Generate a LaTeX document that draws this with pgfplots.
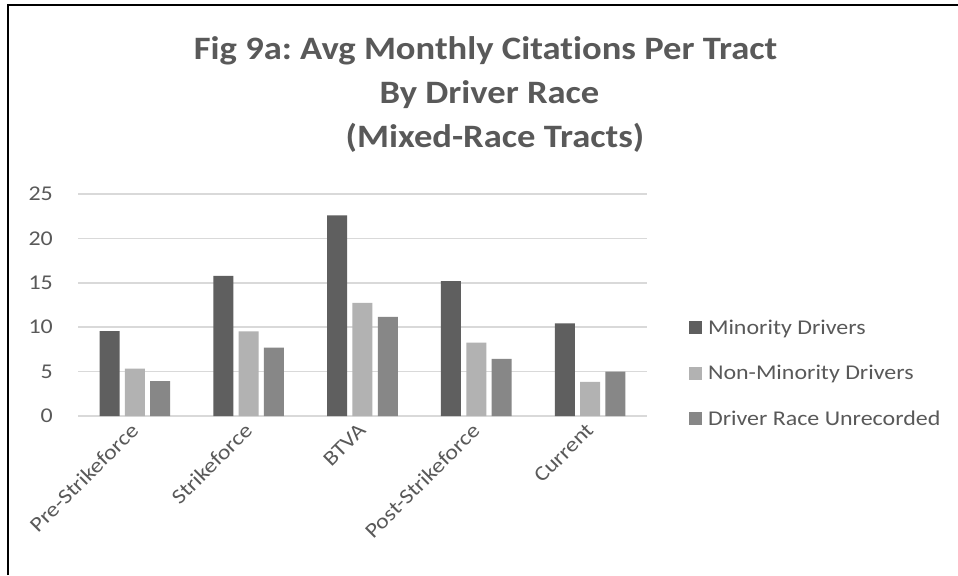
\documentclass[border=0pt]{standalone}
\usepackage{pgfplots}
\pgfplotsset{compat=1.18}
\usepackage{fontspec}
\setmainfont{Carlito}[FakeStretch=1.14, Ligatures=CommonOff]
\newfontfamily\titlefont{Carlito}[FakeStretch=1.12, Ligatures=CommonOff]
\frenchspacing
\definecolor{txt}{HTML}{595959}
\definecolor{cA}{HTML}{5F5F5F}
\definecolor{cB}{HTML}{B2B2B2}
\definecolor{cC}{HTML}{878787}
\definecolor{grd}{HTML}{D9D9D9}
\begin{document}
\begin{tikzpicture}[x=0.428571pt,y=-0.428571pt]
\useasboundingbox (0,0) rectangle (958,575);
\fill[white] (0,0) rectangle (958,575);
\draw[black, line width=0.9pt] (8.3,575) -- (8.3,4.7) -- (958,4.7);
\node[anchor=base, inner sep=0pt, font=\titlefont\fontsize{14}{17}\selectfont\bfseries, text=txt] at (485.5,59.3) {Fig 9a: Avg Monthly Citations Per Tract};
\node[anchor=base, inner sep=0pt, font=\titlefont\fontsize{14}{17}\selectfont\bfseries, text=txt] at (489.5,103.3) {By Driver Race};
\node[anchor=base, inner sep=0pt, font=\titlefont\fontsize{14}{17}\selectfont\bfseries, text=txt] at (495,147) {(Mixed-Race Tracts)};
\begin{axis}[
  at={(33.4286pt,-178.2856pt)}, anchor=south west,
  width=243.857pt, height=95.143pt, scale only axis,
  ymin=0, ymax=25, ytick={0,5,...,25},
  xmin=-0.5, xmax=4.5, xtick={0,1,2,3,4},
  xticklabels={Pre-Strikeforce,Strikeforce,BTVA,Post-Strikeforce,Current},
  axis line style={draw=none},
  major tick length=0pt,
  tick style={draw=none},
  ymajorgrids, grid style={grd, line width=0.75pt},
  /pgf/number format/assume math mode=true,
  yticklabel style={font=\fontsize{9}{11}\selectfont, text=txt, anchor=east, inner sep=0pt, xshift=-10.6pt},
  xticklabel style={font=\fontsize{9}{11}\selectfont, text=txt, yshift=-4.5pt, rotate=45, anchor=east, inner sep=0pt},
  ybar, bar width=8.571pt,
  legend style={at={(1.0738,0.4378)}, anchor=north west, draw=none, fill=none, inner sep=0pt,
    row sep=11pt, font=\fontsize{9}{11}\selectfont, text=txt,
    nodes={inner sep=0pt, text height=6.5pt, text depth=2pt, anchor=base west},
    /tikz/every odd column/.style={column sep=2.4pt}},
  legend cell align=left,
  legend image code/.code={\fill[#1] (0pt,0pt) rectangle (5.57pt,5.57pt);},
]
\addplot[fill=cA, draw=none, bar shift=-10.84pt] coordinates {(0,9.57) (1,15.77) (2,22.6) (3,15.2) (4,10.44)};
\addplot[fill=cB, draw=none, bar shift=0pt] coordinates {(0,5.33) (1,9.53) (2,12.73) (3,8.26) (4,3.83)};
\addplot[fill=cC, draw=none, bar shift=10.84pt] coordinates {(0,3.94) (1,7.70) (2,11.15) (3,6.42) (4,4.99)};
\legend{Minority Drivers, Non-Minority Drivers, Driver Race Unrecorded}
\end{axis}
\end{tikzpicture}
\end{document}
